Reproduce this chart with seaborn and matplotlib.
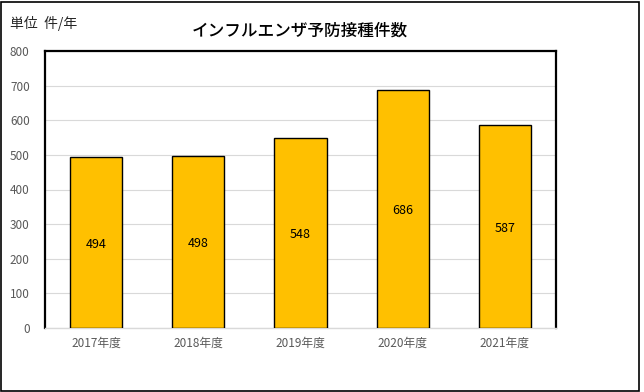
import pandas as pd
import matplotlib
matplotlib.use("Agg")
import matplotlib.pyplot as plt
import seaborn as sns

# data
years = ["2017年度", "2018年度", "2019年度", "2020年度", "2021年度"]
counts = [494, 498, 548, 686, 587]
yticks = [0, 100, 200, 300, 400, 500, 600, 700, 800]

df = pd.DataFrame({"year": years, "count": counts})

sns.set_style("white")
plt.rcParams["font.family"] = ["Noto Sans CJK JP", "DejaVu Sans"]

fig = plt.figure(figsize=(6.44, 3.92), dpi=100)
ax = fig.add_axes([45 / 644, 1 - 328 / 392, 511 / 644, 277 / 392])

sns.barplot(data=df, x="year", y="count", color="#FFC000", edgecolor="black",
            linewidth=1, width=0.51, saturation=1, ax=ax, zorder=3)

ax.set_ylim(0, 800)
ax.set_yticks(yticks)
ax.grid(axis="y", color="#D9D9D9", linewidth=0.8, zorder=0)
ax.set_xlabel("")
ax.set_ylabel("")
ax.tick_params(axis="both", length=0, colors="#595959", labelsize=8.5)
ax.tick_params(axis="x", pad=6)
ax.tick_params(axis="y", pad=11)

for side in ["left", "right", "top"]:
    ax.spines[side].set_color("black")
    ax.spines[side].set_linewidth(1.6)
ax.spines["bottom"].set_color("#D9D9D9")
ax.spines["bottom"].set_linewidth(1)

# value labels in the middle of each bar
for i, v in enumerate(counts):
    ax.text(i, v / 2 - 5, str(v), ha="center", va="center", fontsize=9, color="black", zorder=4)

fig.text(300 / 644, 1 - 31 / 392, "インフルエンザ予防接種件数", ha="center", va="center",
         fontsize=12, fontweight="medium", color="black")
fig.text(10 / 644, 1 - 23 / 392, "単位  件/年", ha="left", va="center", fontsize=10)

# outer border
fig.patches.append(plt.Rectangle((0.002, 0.003), 0.99, 0.992, transform=fig.transFigure,
                                 fill=False, edgecolor="black", linewidth=1.2))

fig.savefig("out.png", dpi=100)
